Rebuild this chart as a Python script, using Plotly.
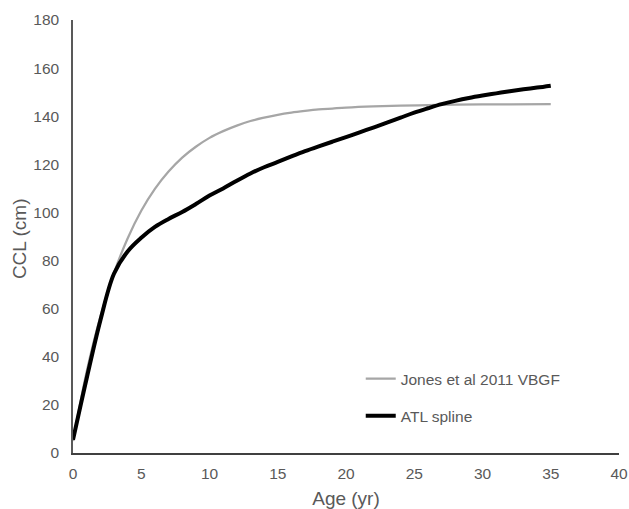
import plotly.graph_objects as go

# Jones et al 2011 VBGF
vbgf_age = [0, 1, 2, 3, 4, 5, 6, 7, 8, 9, 10, 11, 12, 13, 14, 15, 16, 17, 18, 19, 20,
            22, 24, 26, 28, 30, 32, 35]
vbgf_ccl = [5.0, 33.8, 56.6, 74.8, 89.2, 100.7, 109.8, 117.0, 122.8, 127.3, 131.0, 133.8,
            136.1, 138.0, 139.4, 140.6, 141.5, 142.2, 142.8, 143.2, 143.6,
            144.1, 144.4, 144.6, 144.8, 144.9, 144.9, 145.0]

# ATL spline
atl_age = list(range(0, 36))
atl_ccl = [5.5, 31, 55, 74.5, 83.8, 89.5, 94, 97.3, 100.2, 103.5, 107, 110, 113.2, 116.2,
           118.8, 121, 123.3, 125.5, 127.5, 129.4, 131.3, 133.3, 135.3, 137.3, 139.4,
           141.5, 143.3, 145, 146.4, 147.6, 148.6, 149.5, 150.4, 151.2, 151.9, 152.7]

x_ticks = [0, 5, 10, 15, 20, 25, 30, 35, 40]
y_ticks = [0, 20, 40, 60, 80, 100, 120, 140, 160, 180]

FONT = "Liberation Sans, Arial, sans-serif"
TICK_COLOR = "#595959"

fig = go.Figure()
fig.add_trace(go.Scatter(x=vbgf_age, y=vbgf_ccl, mode="lines", name="Jones et al 2011 VBGF",
                         line=dict(color="#A6A6A6", width=2.25, shape="spline"),
                         legendgroup="a"))
fig.add_trace(go.Scatter(x=atl_age, y=atl_ccl, mode="lines", name="ATL spline",
                         line=dict(color="#000000", width=4, shape="spline"),
                         legendgroup="b"))

fig.update_layout(
    width=629, height=509,
    margin=dict(l=73, r=10, t=20, b=56),
    paper_bgcolor="white", plot_bgcolor="white",
    font=dict(family=FONT, size=15.5, color=TICK_COLOR),
    showlegend=True,
    legend=dict(x=0.527, y=0.21, xanchor="left", yanchor="top",
                bgcolor="rgba(0,0,0,0)", font=dict(size=15.5, color=TICK_COLOR),
                tracegroupgap=14),
    xaxis=dict(range=[0, 40], tickvals=x_ticks, ticktext=[str(v) for v in x_ticks],
               showgrid=False, zeroline=False, showline=True, linecolor="#404040",
               linewidth=1.5, ticks="", ticklabelstandoff=6, automargin=False,
               ticklabeloverflow="allow",
               tickfont=dict(size=15.5, color=TICK_COLOR),
               title=dict(text="Age (yr)", font=dict(size=19, color=TICK_COLOR))),
    yaxis=dict(range=[0, 180], tickvals=y_ticks, ticktext=[str(v) for v in y_ticks],
               showgrid=False, zeroline=False, showline=True, linecolor="#595959",
               linewidth=1.5, ticks="", ticklabelstandoff=9, automargin=False,
               tickfont=dict(size=15.5, color=TICK_COLOR)),
    annotations=[dict(text="CCL (cm)", xref="paper", yref="paper", x=-0.0989, y=0.494,
                      xanchor="center", yanchor="middle", textangle=-90, showarrow=False,
                      font=dict(size=19, color=TICK_COLOR, family=FONT))],
)

# remove the page's default body margin so the figure fills the window exactly
fig.write_html("out.html", config={"displayModeBar": False},
               post_script="document.body.style.margin='0';document.body.style.overflow='hidden';")
